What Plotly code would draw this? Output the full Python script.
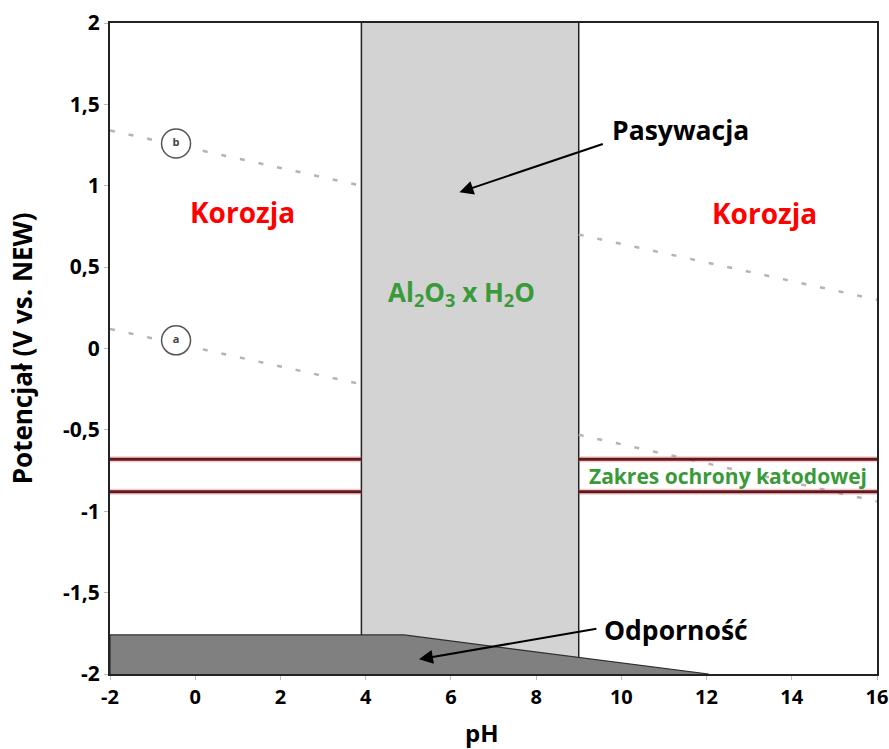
import plotly.graph_objects as go

# Pourbaix-style diagram for aluminium (E vs pH)
ph_range = [-2, 16]
e_range = [-2, 2]

x_ticks = [-2, 0, 2, 4, 6, 8, 10, 12, 14, 16]
x_tick_text = ["-2", "0", "2", "4", "6", "8", "10", "12", "14", "16"]
y_ticks = [2, 1.5, 1, 0.5, 0, -0.5, -1, -1.5, -2]
y_tick_text = ["2", "1,5", "1", "0,5", "0", "-0,5", "-1", "-1,5", "-2"]

# passivation (Al2O3 x H2O) region
passive_ph = [3.9, 3.9, 9.0, 9.0]
passive_e = [-1.76, 2.0, 2.0, -1.9]

# immunity region
immunity_ph = [-2, -2, 4.9, 12.05]
immunity_e = [-2, -1.76, -1.76, -2.0]

# water stability lines (b: O2, a: H2), split by the passive region
line_b_left_ph, line_b_left_e = [-2, 3.9], [1.34, 1.00]
line_b_right_ph, line_b_right_e = [9, 16], [0.70, 0.30]
line_a_left_ph, line_a_left_e = [-2, 3.9], [0.12, -0.22]
line_a_right_ph, line_a_right_e = [9, 16], [-0.53, -0.94]

# cathodic protection range
protection_e = [-0.68, -0.88]
protection_left_ph = [-2, 3.9]
protection_right_ph = [9, 16]

# circled line labels
circle_ph = [-0.45, -0.45]
circle_e = [1.26, 0.05]
circle_text = ["b", "a"]

FONT = "Open Sans"


def bold(s):
    return "<b>" + s + "</b>"


fig = go.Figure()

fig.add_trace(go.Scatter(
    x=passive_ph, y=passive_e, mode="lines", fill="toself",
    fillcolor="#d3d3d3", line=dict(color="rgba(0,0,0,0)", width=0),
    hoverinfo="skip", showlegend=False))
# passive region borders
for px, pe in ((passive_ph[:2], passive_e[:2]), (passive_ph[2:], passive_e[2:])):
    fig.add_trace(go.Scatter(x=px, y=pe, mode="lines",
                             line=dict(color="#222222", width=1.5),
                             hoverinfo="skip", showlegend=False))

fig.add_trace(go.Scatter(
    x=immunity_ph, y=immunity_e, mode="lines", fill="toself",
    fillcolor="#808080", line=dict(color="#303030", width=1.2),
    hoverinfo="skip", showlegend=False))

# water lines
for lx, ly in ((line_b_left_ph, line_b_left_e), (line_b_right_ph, line_b_right_e),
               (line_a_left_ph, line_a_left_e), (line_a_right_ph, line_a_right_e)):
    fig.add_trace(go.Scatter(x=lx, y=ly, mode="lines",
                             line=dict(color="#b4b4b4", width=2.5, dash="5px,14px"),
                             hoverinfo="skip", showlegend=False))

# cathodic protection band limits
for e in protection_e:
    for seg in (protection_left_ph, protection_right_ph):
        fig.add_trace(go.Scatter(x=seg, y=[e, e], mode="lines",
                                 line=dict(color="rgba(235,120,120,0.4)", width=6),
                                 hoverinfo="skip", showlegend=False))
        fig.add_trace(go.Scatter(x=seg, y=[e, e], mode="lines",
                                 line=dict(color="#5e1a20", width=3),
                                 hoverinfo="skip", showlegend=False))

fig.add_trace(go.Scatter(
    x=circle_ph, y=circle_e, mode="markers+text", text=[bold(t) for t in circle_text],
    textposition="middle center",
    textfont=dict(family=FONT, size=11, color="#444444"),
    marker=dict(size=29, color="white", line=dict(color="#555555", width=1.5)),
    hoverinfo="skip", showlegend=False))

annotations = [
    dict(x=1.12, y=0.84, text=bold("Korozja"), showarrow=False,
         font=dict(family=FONT, size=28, color="#ff0000")),
    dict(x=13.37, y=0.83, text=bold("Korozja"), showarrow=False,
         font=dict(family=FONT, size=28, color="#ff0000")),
    dict(x=6.26, y=0.34, text=bold("Al<sub>2</sub>O<sub>3</sub> x H<sub>2</sub>O"), showarrow=False,
         font=dict(family=FONT, size=26, color="#3a9a3a")),
    dict(x=12.5, y=-0.785, text=bold("Zakres ochrony katodowej"), showarrow=False,
         font=dict(family=FONT, size=21, color="#3a9a3a")),
    dict(x=11.4, y=1.34, text=bold("Pasywacja"), showarrow=False,
         font=dict(family=FONT, size=26.5, color="black")),
    dict(x=11.28, y=-1.73, text=bold("Odporność"), showarrow=False,
         font=dict(family=FONT, size=26.5, color="black")),
    # arrows
    dict(x=6.2, y=0.96, ax=9.6, ay=1.26, xref="x", yref="y", axref="x", ayref="y",
         text="", showarrow=True, arrowhead=2, arrowsize=1.4, arrowwidth=2, arrowcolor="black"),
    dict(x=5.25, y=-1.91, ax=9.45, ay=-1.72, xref="x", yref="y", axref="x", ayref="y",
         text="", showarrow=True, arrowhead=2, arrowsize=1.4, arrowwidth=2, arrowcolor="black"),
    # axis titles
    dict(x=0.485, y=-0.09, xref="paper", yref="paper", text=bold("pH"), showarrow=False,
         xanchor="center", yanchor="middle",
         font=dict(family=FONT, size=24, color="black")),
    dict(x=-0.115, y=0.5, xref="paper", yref="paper", text=bold("Potencjał (V vs. NEW)"),
         showarrow=False, textangle=-90, xanchor="center", yanchor="middle",
         font=dict(family=FONT, size=26, color="black")),
]

fig.update_layout(
    width=889, height=749,
    margin=dict(l=110, r=12, t=23, b=75, autoexpand=False),
    paper_bgcolor="white", plot_bgcolor="white",
    showlegend=False,
    annotations=annotations,
    xaxis=dict(range=ph_range, tickvals=x_ticks, ticktext=[bold(t) for t in x_tick_text],
               showgrid=False, zeroline=False, automargin=False,
               ticklabeloverflow="allow",
               showline=True, linecolor="#222222", linewidth=2, mirror=True,
               ticks="outside", ticklen=4, tickcolor="#bbbbbb",
               tickfont=dict(family=FONT, size=20, color="black")),
    yaxis=dict(range=e_range, tickvals=y_ticks, ticktext=[bold(t) for t in y_tick_text],
               showgrid=False, zeroline=False, automargin=False,
               ticklabeloverflow="allow",
               showline=True, linecolor="#222222", linewidth=2, mirror=True,
               ticks="outside", ticklen=4, tickcolor="#bbbbbb",
               tickfont=dict(family=FONT, size=21, color="black")),
)

fig.write_html("out.html")
